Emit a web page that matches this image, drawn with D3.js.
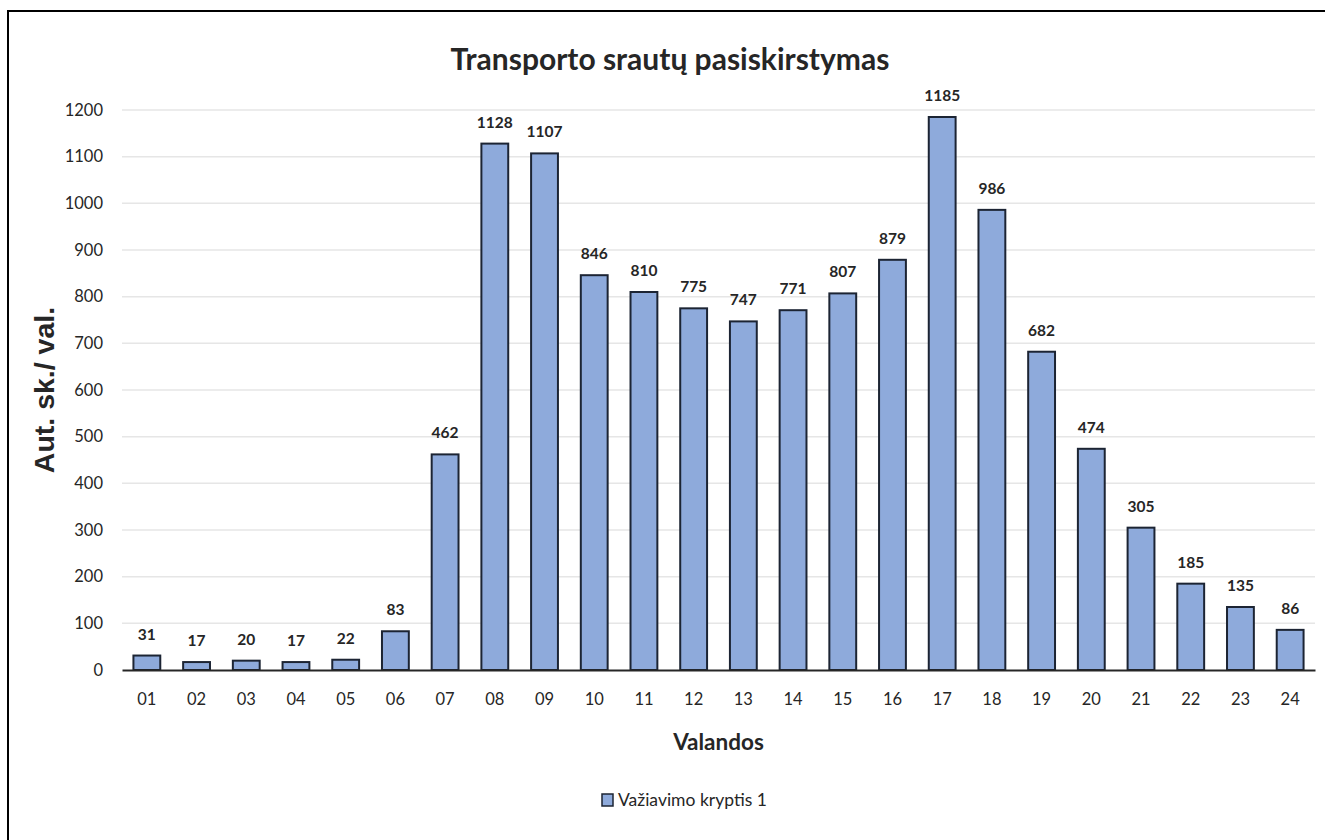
<!DOCTYPE html>
<meta charset="utf-8">
<style>
body { margin: 0; background: #fff; }
text { font-family: Lato, "Open Sans", sans-serif; fill: #262626; }
.grid line { stroke: #e6e6e6; stroke-width: 1.5; }
.bar { fill: #8eaadb; stroke: #1c2433; stroke-width: 2; }
.tick text { font-size: 16.5px; }
.lbl { font-size: 15.5px; font-weight: bold; }
</style>
<body>
<script src="https://cdn.jsdelivr.net/npm/d3@7"></script>
<script>

// hours and traffic counts
var hours = ["01","02","03","04","05","06","07","08","09","10","11","12",
             "13","14","15","16","17","18","19","20","21","22","23","24"];
var counts = [31,17,20,17,22,83,462,1128,1107,846,810,775,
              747,771,807,879,1185,986,682,474,305,185,135,86];
var yTicks = [0,100,200,300,400,500,600,700,800,900,1000,1100,1200];
var seriesName = "Važiavimo kryptis 1";

var W = 1325, H = 840;
var margin = {top: 110, right: 10, bottom: 170, left: 122},
    width = 1315 - margin.left,
    height = 670 - margin.top;

var svg = d3.select("body").append("svg")
    .attr("width", W)
    .attr("height", H);

// outer frame (top and left edges only)
svg.append("path")
    .attr("d", "M8," + H + "V11H" + W)
    .attr("fill", "none")
    .attr("stroke", "#000")
    .attr("stroke-width", 2);

var g = svg.append("g")
    .attr("transform", "translate(" + margin.left + "," + margin.top + ")");

var x = d3.scaleBand()
    .domain(hours)
    .range([0, width])
    .paddingInner(0.46)
    .paddingOuter(0.23);
var y = d3.scaleLinear()
    .domain([0, 1200])
    .range([height, 0]);

// gridlines
g.append("g")
    .attr("class", "grid")
  .selectAll("line")
    .data(yTicks.slice(1))
  .enter().append("line")
    .attr("x1", 0).attr("x2", width)
    .attr("y1", function(d) { return y(d); })
    .attr("y2", function(d) { return y(d); });

// y axis
var yAxis = g.append("g")
    .call(d3.axisLeft(y).tickValues(yTicks).tickFormat(d3.format("d"))
      .tickSize(0).tickPadding(19));
yAxis.select(".domain").remove();

// bars
g.selectAll(".bar")
    .data(counts)
  .enter().append("rect")
    .attr("class", "bar")
    .attr("x", function(d, i) { return x(hours[i]); })
    .attr("width", x.bandwidth())
    .attr("y", function(d) { return y(d); })
    .attr("height", function(d) { return height - y(d); });

// x axis
var xAxis = g.append("g")
    .attr("transform", "translate(0," + height + ")")
    .call(d3.axisBottom(x).tickSize(0).tickPadding(23));
xAxis.select(".domain").attr("stroke", "#262626").attr("stroke-width", 2);

// value labels
g.selectAll(".lbl")
    .data(counts)
  .enter().append("text")
    .attr("class", "lbl")
    .attr("text-anchor", "middle")
    .attr("x", function(d, i) { return x(hours[i]) + x.bandwidth() / 2; })
    .attr("y", function(d) { return y(d) - 16; })
    .text(function(d) { return d; });

// title
svg.append("text")
    .attr("x", 670).attr("y", 70)
    .attr("text-anchor", "middle")
    .style("font-size", "30px").style("font-weight", "bold")
    .text("Transporto srautų pasiskirstymas");

// axis titles
svg.append("text")
    .attr("x", margin.left + width / 2).attr("y", 750)
    .attr("text-anchor", "middle")
    .style("font-size", "22.5px").style("font-weight", "bold")
    .text("Valandos");

svg.append("text")
    .attr("transform", "translate(54," + (margin.top + height / 2) + ") rotate(-90)")
    .attr("text-anchor", "middle")
    .style("font-family", "'Liberation Sans', Arial, sans-serif")
    .style("font-size", "28.5px").style("font-weight", "bold")
    .text("Aut. sk./ val.");

// legend
var leg = svg.append("g").attr("transform", "translate(602,794)");
leg.append("rect")
    .attr("width", 11).attr("height", 12)
    .attr("fill", "#8eaadb").attr("stroke", "#1c2433").attr("stroke-width", 1.5);
leg.append("text")
    .attr("x", 16).attr("y", 12)
    .style("font-size", "17.5px")
    .text(seriesName);

</script>
</body>
